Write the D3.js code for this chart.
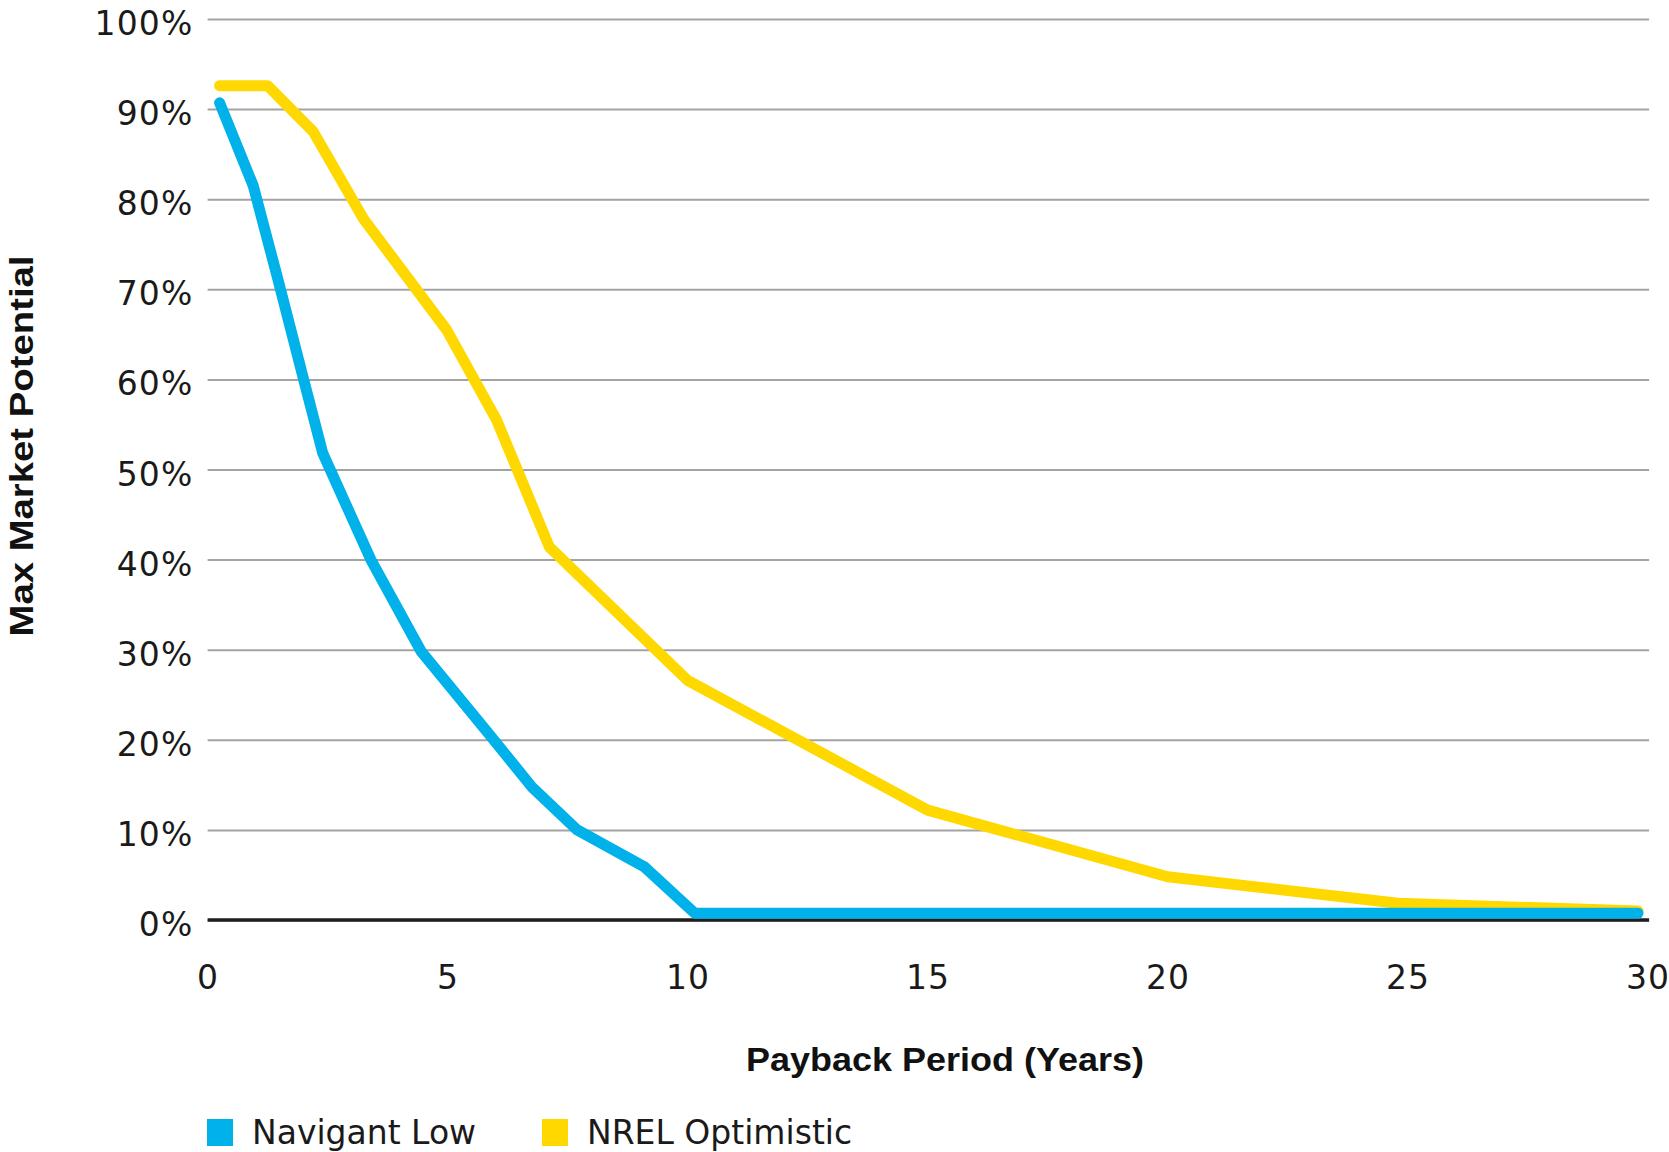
<!DOCTYPE html>
<html>
<head>
<meta charset="utf-8">
<script src="https://cdn.jsdelivr.net/npm/d3@7"></script>
<style>
  body { margin: 0; background: #fff; }
  svg { display: block; }
</style>
</head>
<body>
<div id="chart"></div>
<script>
// series (payback years, % of max market)
const navigantYears = [0.25, 0.95, 1.45, 2.0, 2.4, 3.4, 4.45, 5.9, 6.75, 7.7, 9.1, 10.15, 29.8];
const navigantLow   = [90.7, 81.5, 71.4, 60.0, 51.8, 40.0, 29.8, 20.4, 14.8, 10.0, 5.9, 0.75, 0.75];

const nrelYears      = [0.25, 1.25, 2.2, 3.25, 4.98, 6.02, 7.12, 10.0, 15.0, 20.0, 24.8, 29.8];
const nrelOptimistic = [92.6, 92.6, 87.5, 77.8, 65.5, 55.5, 41.4, 26.6, 12.2, 4.8, 1.85, 1.0];

const xTicks = [0, 5, 10, 15, 20, 25, 30];
const yTicks = [0, 10, 20, 30, 40, 50, 60, 70, 80, 90, 100];

const seriesNames = ["Navigant Low", "NREL Optimistic"];
const seriesColors = ["#00b1ea", "#ffd800"];

const width = 1669;
const height = 1152;
const plotLeft = 207.6, plotRight = 1647.6, plotTop = 19, plotBottom = 920;

const tickFont = "'DejaVu Sans', sans-serif";
const titleFont = "'Liberation Sans', Arial, sans-serif";

const svg = d3.select("#chart")
  .append("svg")
  .attr("width", width)
  .attr("height", height);

const x = d3.scaleLinear().domain([0, 30]).range([plotLeft, plotRight]);
const y = d3.scaleLinear().domain([0, 100]).range([plotBottom, plotTop]);

// y axis with gridlines
const yAxis = svg.append("g")
  .attr("transform", `translate(${plotLeft},0)`)
  .call(d3.axisLeft(y)
    .tickValues(yTicks)
    .tickSize(-(plotRight - plotLeft) - 1.5)
    .tickPadding(14)
    .tickFormat(d => d + "%"));

yAxis.select(".domain").remove();
yAxis.selectAll(".tick line")
  .attr("stroke", "#a3a3a3")
  .attr("stroke-width", 2);
yAxis.selectAll(".tick text")
  .attr("dy", "0.47em")
  .attr("fill", "#1a1a1a")
  .style("font-family", tickFont)
  .style("font-size", "33px")
  .style("letter-spacing", "1.2px");

// x axis labels
const xAxis = svg.append("g")
  .attr("transform", `translate(0,${plotBottom})`)
  .call(d3.axisBottom(x)
    .tickValues(xTicks)
    .tickSize(0)
    .tickPadding(46));

xAxis.select(".domain").remove();
xAxis.selectAll(".tick text")
  .attr("fill", "#1a1a1a")
  .style("font-family", tickFont)
  .style("font-size", "33px")
  .style("letter-spacing", "1.2px");

// zero baseline
svg.append("line")
  .attr("x1", plotLeft)
  .attr("x2", plotRight + 1.5)
  .attr("y1", y(0))
  .attr("y2", y(0))
  .attr("stroke", "#1e1e1e")
  .attr("stroke-width", 3.5);

// lines
const line = d3.line()
  .x(d => x(d[0]))
  .y(d => y(d[1]));

const series = [
  { name: seriesNames[1], color: seriesColors[1], points: d3.zip(nrelYears, nrelOptimistic) },
  { name: seriesNames[0], color: seriesColors[0], points: d3.zip(navigantYears, navigantLow) }
];

svg.selectAll("path.series")
  .data(series)
  .enter().append("path")
  .attr("class", "series")
  .attr("d", d => line(d.points))
  .attr("fill", "none")
  .attr("stroke", d => d.color)
  .attr("stroke-width", 11)
  .attr("stroke-linejoin", "round")
  .attr("stroke-linecap", "round");

// axis titles
svg.append("text")
  .attr("x", 945)
  .attr("y", 1071)
  .attr("text-anchor", "middle")
  .attr("textLength", 398)
  .attr("lengthAdjust", "spacingAndGlyphs")
  .style("font-family", titleFont)
  .style("font-weight", "bold")
  .style("font-size", "33px")
  .attr("fill", "#111")
  .text("Payback Period (Years)");

svg.append("text")
  .attr("transform", "translate(33,446) rotate(-90)")
  .attr("text-anchor", "middle")
  .attr("textLength", 381)
  .attr("lengthAdjust", "spacingAndGlyphs")
  .style("font-family", titleFont)
  .style("font-weight", "bold")
  .style("font-size", "33px")
  .attr("fill", "#111")
  .text("Max Market Potential");

// legend
const legendX = [207, 542];
const legend = svg.selectAll("g.legend")
  .data(seriesNames)
  .enter().append("g")
  .attr("class", "legend")
  .attr("transform", (d, i) => `translate(${legendX[i]},1119)`);

legend.append("rect")
  .attr("width", 26)
  .attr("height", 27)
  .attr("fill", (d, i) => seriesColors[i]);

legend.append("text")
  .attr("x", 45)
  .attr("y", 25)
  .style("font-family", tickFont)
  .style("font-size", "33px")
  .attr("fill", "#1a1a1a")
  .text(d => d);
</script>
</body>
</html>
